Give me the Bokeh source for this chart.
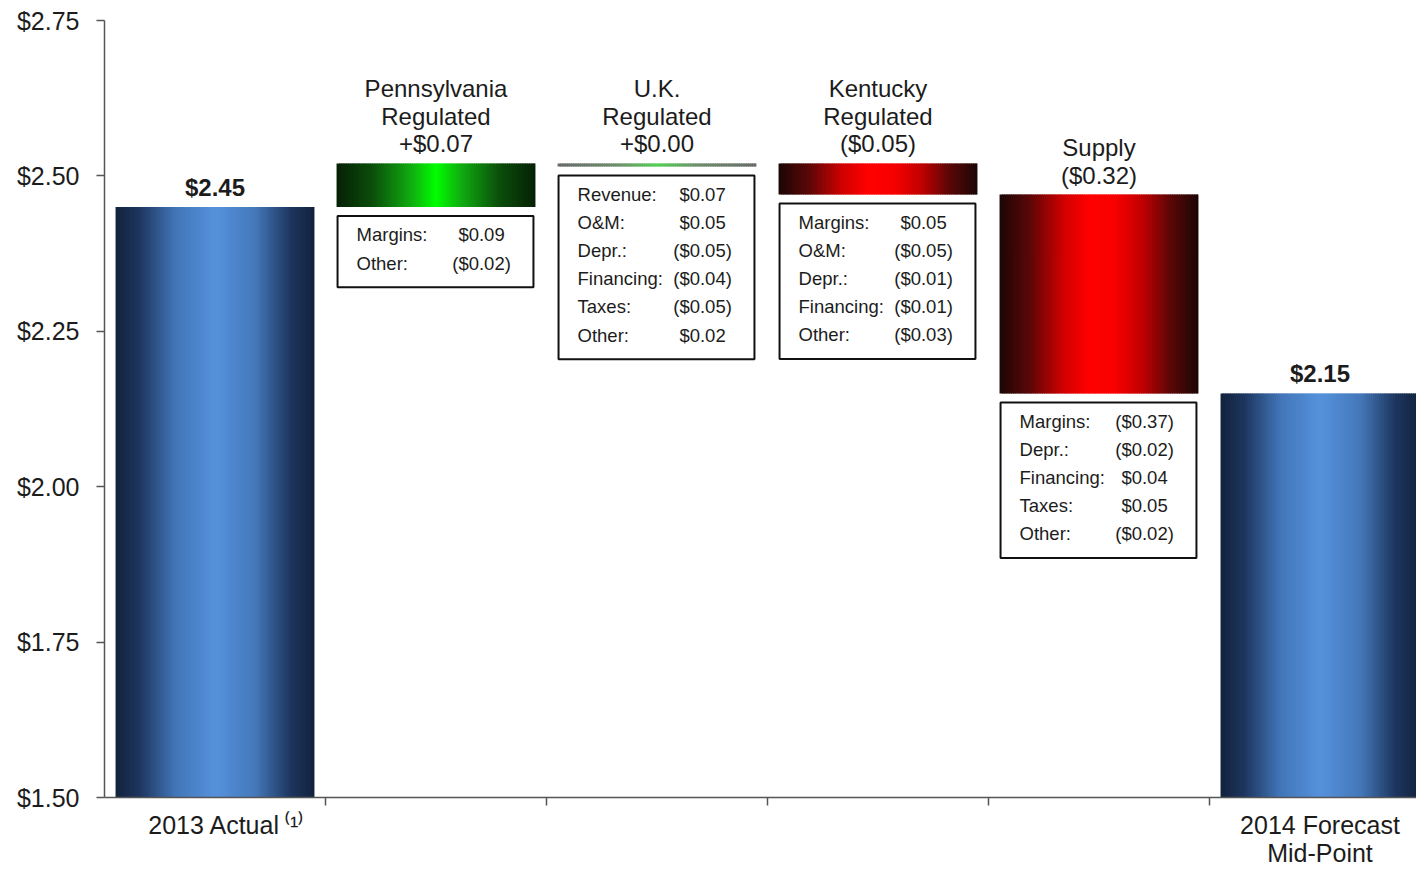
import numpy as np
from bokeh.plotting import figure
from bokeh.models import FixedTicker, PrintfTickFormatter, ColumnDataSource, Range1d
from bokeh.embed import file_html
from bokeh.resources import INLINE
from bokeh.core.properties import value

# ---------------- data ----------------
categories = ["2013 Actual", "Pennsylvania Regulated", "U.K. Regulated",
              "Kentucky Regulated", "Supply", "2014 Forecast Mid-Point"]
kinds = ["total", "delta", "delta", "delta", "delta", "total"]
amounts = [2.45, 0.07, 0.00, -0.05, -0.32, 2.15]
top_labels = ["$2.45", "Pennsylvania\nRegulated\n+$0.07", "U.K.\nRegulated\n+$0.00",
              "Kentucky\nRegulated\n($0.05)", "Supply\n($0.32)", "$2.15"]
axis_label_idx = [0, 5]
axis_label_text = ["2013 Actual\u2009\u207d\u00b9\u207e", "2014 Forecast\nMid-Point"]
y_ticks = [1.50, 1.75, 2.00, 2.25, 2.50, 2.75]

pa_items = ["Margins:", "Other:"]
pa_values = ["$0.09", "($0.02)"]
uk_items = ["Revenue:", "O&M:", "Depr.:", "Financing:", "Taxes:", "Other:"]
uk_values = ["$0.07", "$0.05", "($0.05)", "($0.04)", "($0.05)", "$0.02"]
ky_items = ["Margins:", "O&M:", "Depr.:", "Financing:", "Other:"]
ky_values = ["$0.05", "($0.05)", "($0.01)", "($0.01)", "($0.03)"]
supply_items = ["Margins:", "Depr.:", "Financing:", "Taxes:", "Other:"]
supply_values = ["($0.37)", "($0.02)", "$0.04", "$0.05", "($0.02)"]
details = {1: (pa_items, pa_values), 2: (uk_items, uk_values),
           3: (ky_items, ky_values), 4: (supply_items, supply_values)}

# ---------------- layout constants ----------------
W, H = 1416, 869
FL, FT, FB = 104, 20, 70            # frame left / top / bottom border
FW, FH = W - FL, H - FT - FB
CAT_PX = 221.0
Y0, Y1 = 1.50, 2.75
X0 = -0.5
X1 = X0 + FW / CAT_PX
PPY = FH / (Y1 - Y0)                # pixels per data unit (y)
BW = 0.9                            # bar width (category units)
FONT = "Liberation Sans"
TXT = "#1c1c1c"

# ---------------- waterfall geometry ----------------
bottoms, tops = [], []
run = 0.0
for k, a in zip(kinds, amounts):
    if k == "total":
        bottoms.append(0.0); tops.append(a); run = a
    else:
        lo, hi = sorted([run, run + a])
        bottoms.append(lo); tops.append(hi); run = run + a

# gradient stops (style)
BLUE = [(0.0, "#13223d"), (0.12, "#1d365f"), (0.3, "#4275b8"), (0.5, "#5592dc"),
        (0.7, "#4578bb"), (0.88, "#1d365f"), (1.0, "#13223d")]
GREEN = [(0.0, "#062006"), (0.18, "#0b4d0b"), (0.38, "#10b010"), (0.5, "#00ff00"),
         (0.62, "#10b010"), (0.82, "#0b4d0b"), (1.0, "#062006")]
RED = [(0.0, "#1c0606"), (0.15, "#5a0707"), (0.32, "#d00000"), (0.45, "#ff0000"),
       (0.58, "#f80000"), (0.72, "#c00000"), (0.86, "#5a0707"), (1.0, "#1c0606")]
GRAYGREEN = [(0.0, "#6a6a6a"), (0.3, "#6d8f6d"), (0.5, "#55d055"), (0.7, "#6d8f6d"),
             (1.0, "#6a6a6a")]


def hex2rgb(h):
    h = h.lstrip("#")
    return np.array([int(h[i:i + 2], 16) for i in (0, 2, 4)], float)


def grad(stops, t):
    for (t0, c0), (t1, c1) in zip(stops[:-1], stops[1:]):
        if t0 <= t <= t1:
            f = (t - t0) / (t1 - t0) if t1 > t0 else 0
            c = hex2rgb(c0) * (1 - f) + hex2rgb(c1) * f
            return "#%02x%02x%02x" % tuple(int(round(v)) for v in c)
    return stops[-1][1]


N = 90
sl, sr, st, sb, sc = [], [], [], [], []
for i, (k, a) in enumerate(zip(kinds, amounts)):
    lo, hi = bottoms[i], tops[i]
    if k == "total":
        stops = BLUE
    elif a > 0:
        stops = GREEN
    elif a < 0:
        stops = RED
    else:
        stops = GRAYGREEN
        lo = hi - 3.0 / PPY
    x0 = i - BW / 2
    dx = BW / N
    for j in range(N):
        l = x0 + j * dx
        sl.append(l)
        sr.append(min(l + dx * 1.7, x0 + BW))
        st.append(hi)
        sb.append(lo)
        sc.append(grad(stops, (j + 0.5) / N))

p = figure(width=W, height=H, output_backend="svg", toolbar_location=None,
           x_range=Range1d(X0, X1), y_range=Range1d(Y0, Y1),
           min_border_left=FL, min_border_right=0, min_border_top=FT,
           min_border_bottom=FB)
p.outline_line_color = None
p.xgrid.visible = False
p.ygrid.visible = False

p.quad(left="l", right="r", top="t", bottom="b", fill_color="c", line_color=None,
       source=ColumnDataSource(dict(l=sl, r=sr, t=st, b=sb, c=sc)))

# ---------------- labels above bars ----------------
lab_y = [tops[i] + 6.0 / PPY for i in range(len(categories))]
tot_idx = [i for i, k in enumerate(kinds) if k == "total"]
del_idx = [i for i, k in enumerate(kinds) if k != "total"]
p.text(x=tot_idx, y=[lab_y[i] for i in tot_idx], text=[top_labels[i] for i in tot_idx],
       text_font=value(FONT), text_font_size="24px", text_font_style="bold",
       text_align="center", text_baseline="bottom", text_color=TXT)
p.text(x=del_idx, y=[lab_y[i] for i in del_idx], text=[top_labels[i] for i in del_idx],
       text_font=value(FONT), text_font_size="24px", text_align="center",
       text_baseline="bottom", text_color=TXT, text_line_height=1.02)

# ---------------- detail boxes ----------------
bl, br, bt, bb = [], [], [], []
tx, ty, tt, vx, vy, vt = [], [], [], [], [], []
for i, (items, vals) in details.items():
    x0 = i - BW / 2
    base = bottoms[i]
    if amounts[i] == 0:
        base = tops[i] - 3.0 / PPY
    top = base - 9.0 / PPY
    n = len(items)
    bottom = top - (n * 28.2 + 15) / PPY
    bl.append(x0 + 1 / CAT_PX); br.append(x0 + BW - 2 / CAT_PX); bt.append(top); bb.append(bottom)
    for k2, (it, v) in enumerate(zip(items, vals)):
        yy = top - (19 + 28.2 * k2) / PPY
        tx.append(x0 + 20 / CAT_PX); ty.append(yy); tt.append(it)
        vx.append(x0 + 145 / CAT_PX); vy.append(yy); vt.append(v)

p.quad(left=bl, right=br, top=bt, bottom=bb, fill_color="white", line_color="#111111",
       line_width=2)
p.text(x=tx, y=ty, text=tt, text_font=value(FONT), text_font_size="18.5px",
       text_align="left", text_baseline="middle", text_color=TXT)
p.text(x=vx, y=vy, text=vt, text_font=value(FONT), text_font_size="18.5px",
       text_align="center", text_baseline="middle", text_color=TXT)

# ---------------- axes ----------------
ya = p.yaxis[0]
ya.ticker = FixedTicker(ticks=y_ticks)
ya.formatter = PrintfTickFormatter(format="$%.2f")
ya.major_label_text_font = FONT
ya.major_label_text_font_size = "25px"
ya.major_label_text_color = TXT
ya.major_tick_in = 0
ya.major_tick_out = 8
ya.minor_tick_line_color = None
ya.major_label_standoff = 17
ya.axis_line_color = "#555555"
ya.axis_line_width = 1.5
ya.major_tick_line_color = "#555555"
ya.major_tick_line_width = 1.5

xa = p.xaxis[0]
bounds = [i + 0.5 for i in range(len(categories) - 1)]
# first label carries a superscript, shift its anchor so "2013 Actual" stays centred
label_pos = [axis_label_idx[0] + 12 / CAT_PX, axis_label_idx[1]]
xa.ticker = FixedTicker(ticks=label_pos, minor_ticks=bounds)
xa.major_label_overrides = dict(zip(label_pos, axis_label_text))
xa.major_tick_in = 0
xa.major_tick_out = 0
xa.minor_tick_in = 0
xa.minor_tick_out = 8
xa.minor_tick_line_color = "#555555"
xa.minor_tick_line_width = 1.5
xa.axis_line_color = "#555555"
xa.axis_line_width = 1.5
xa.major_label_text_font = FONT
xa.major_label_text_font_size = "25px"
xa.major_label_text_color = TXT
xa.major_label_text_line_height = 1.0
xa.major_label_standoff = 5

open("out.html", "w").write(file_html(p, INLINE))
